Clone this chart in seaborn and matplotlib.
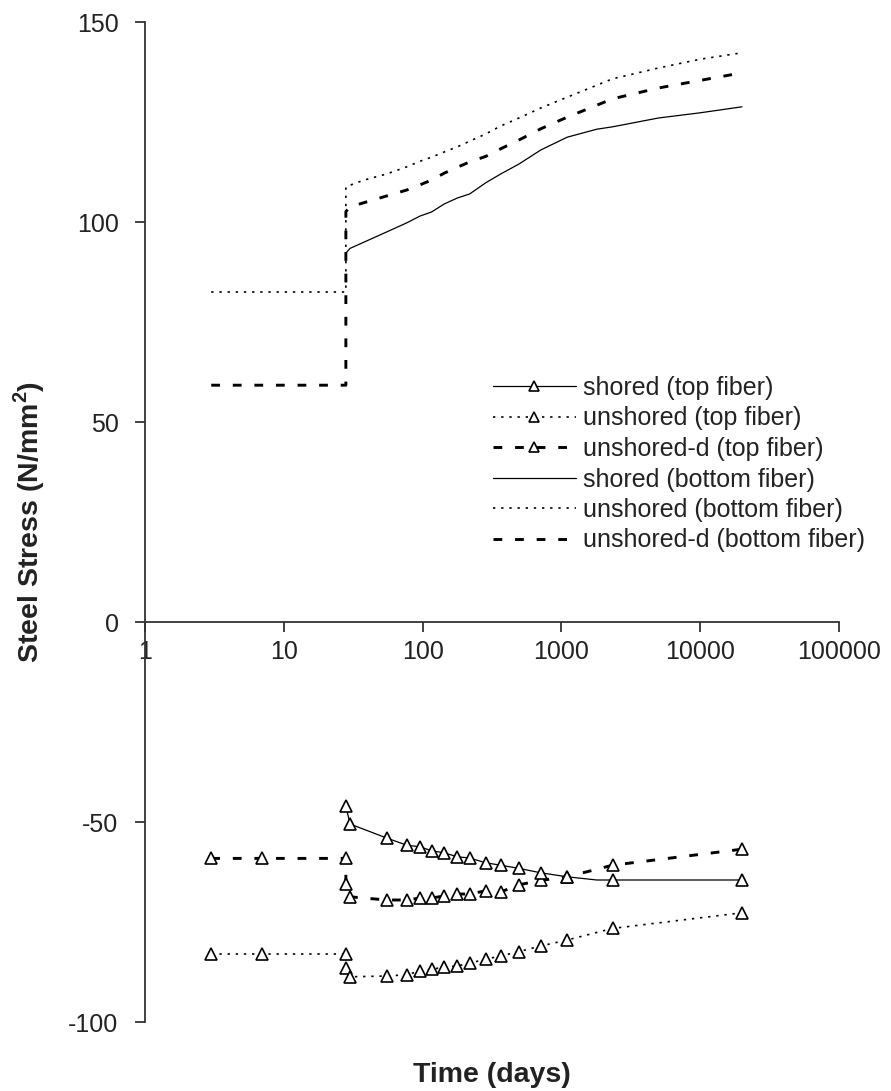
import matplotlib
matplotlib.use('Agg')
import matplotlib.pyplot as plt
import seaborn as sns
import pandas as pd
from matplotlib.lines import Line2D
from matplotlib.ticker import FixedLocator, FixedFormatter, NullLocator

# ---------------- data ----------------
# top fiber series (negative stresses, with triangle markers)
t_shored_top = [28, 30, 55, 77, 96, 116, 143, 178, 218, 285, 365, 495, 710, 1100, 1800, 2340, 20000]
v_shored_top = [-46, -50.5, -54, -55.8, -56.2, -57.2, -57.7, -58.7, -59, -60.2, -60.8, -61.6,
                -62.7, -63.7, -64.5, -64.5, -64.5]
shored_top_marked = [0, 1, 2, 3, 4, 5, 6, 7, 8, 9, 10, 11, 12, 13, 15, 16]

t_unshored_top = [3, 7, 28, 28, 30, 55, 77, 96, 116, 143, 178, 218, 285, 365, 495, 710, 1100, 2340, 20000]
v_unshored_top = [-83, -83, -83, -86.6, -88.7, -88.5, -88.2, -87.2, -86.8, -86.3, -86, -85.3,
                  -84.3, -83.5, -82.4, -81, -79.5, -76.6, -72.7]

t_unshored_d_top = [3, 7, 28, 28, 30, 55, 77, 96, 116, 143, 178, 218, 285, 365, 495, 710, 1100, 2340, 20000]
v_unshored_d_top = [-59.1, -59.1, -59.1, -65.5, -68.7, -69.5, -69.5, -69, -69, -68.5, -68, -68,
                    -67.2, -67.5, -65.7, -64.6, -63.7, -60.8, -56.8]

# bottom fiber series (positive stresses, lines only)
t_shored_bot = [28, 30, 55, 77, 96, 116, 143, 178, 218, 285, 365, 495, 710, 1100, 1800, 2340, 5000, 10000, 20000]
v_shored_bot = [92.2, 93.4, 97.5, 99.8, 101.5, 102.5, 104.5, 106, 107, 109.8, 112, 114.5, 118,
                121.2, 123.2, 123.8, 126, 127.3, 128.8]

t_unshored_bot = [3, 7, 28, 28, 30, 38, 55, 77, 96, 116, 143, 178, 218, 285, 365, 495, 710, 1100,
                  2340, 5000, 10000, 20000]
v_unshored_bot = [82.5, 82.5, 82.5, 108.8, 109.2, 110.5, 112, 113.8, 115.2, 116.2, 117.5, 118.8,
                  120.2, 122, 124, 126, 128.5, 131.2, 135.8, 138.5, 140.7, 142.3]

t_unshored_d_bot = [3, 7, 28, 28, 30, 55, 77, 96, 116, 143, 178, 218, 285, 365, 495, 710, 1100,
                    2340, 5000, 10000, 20000]
v_unshored_d_bot = [59.2, 59.2, 59.2, 102.6, 103.8, 106.5, 108, 109.3, 110.5, 112.2, 113.7, 115,
                    116.4, 118.3, 120.5, 123.3, 126.2, 130.8, 133.5, 135.4, 137.3]

x_ticks = [1, 10, 100, 1000, 10000, 100000]
x_tick_labels = ['1', '10', '100', '1000', '10000', '100000']
y_ticks = [-100, -50, 0, 50, 100, 150]
y_tick_labels = ['-100', '-50', '0', '50', '100', '150']

labels = ['shored (top fiber)', 'unshored (top fiber)', 'unshored-d (top fiber)',
          'shored (bottom fiber)', 'unshored (bottom fiber)', 'unshored-d (bottom fiber)']

# ---------------- styling ----------------
sns.set_theme(style='ticks')
plt.rcParams['font.family'] = ['Liberation Sans', 'DejaVu Sans']
plt.rcParams['axes.unicode_minus'] = False
plt.rcParams['mathtext.fontset'] = 'custom'
plt.rcParams['mathtext.rm'] = 'Liberation Sans'
plt.rcParams['mathtext.bf'] = 'Liberation Sans:bold'

TXT = '#222222'
SOLID = dict(color='black', lw=0.9, ls='-')
DOT = dict(color='black', lw=1.2, ls=(0, (1.4, 3.5)))
DASH = dict(color='black', lw=2.1, ls=(0, (3.0, 4.4)))
MK = dict(marker='^', markersize=9, markerfacecolor='white', markeredgecolor='black',
          markeredgewidth=1.2)

fig = plt.figure(figsize=(8.91, 10.91), dpi=100)
ax = fig.add_axes([145 / 891, 1 - 1022 / 1091, (839 - 145) / 891, 1000 / 1091])

def draw(t, v, style, **extra):
    df = pd.DataFrame({'t': t, 'v': v})
    sns.lineplot(data=df, x='t', y='v', ax=ax, estimator=None, sort=False,
                 legend=False, **style, **extra)

# bottom fiber (upper half)
draw(t_shored_bot, v_shored_bot, SOLID)
draw(t_unshored_bot, v_unshored_bot, DOT)
draw(t_unshored_d_bot, v_unshored_d_bot, DASH)
# top fiber (lower half) with markers
draw(t_unshored_top, v_unshored_top, DOT, **MK)
draw(t_unshored_d_top, v_unshored_d_top, DASH, **MK)
draw(t_shored_top, v_shored_top, SOLID, markevery=shored_top_marked, **MK)

ax.set_xscale('log')
ax.set_xlim(1, 100000)
ax.set_ylim(-100, 150)

ax.xaxis.set_major_locator(FixedLocator(x_ticks))
ax.xaxis.set_major_formatter(FixedFormatter(x_tick_labels))
ax.xaxis.set_minor_locator(NullLocator())
ax.yaxis.set_major_locator(FixedLocator(y_ticks))
ax.yaxis.set_major_formatter(FixedFormatter(y_tick_labels))

for s in ['top', 'right']:
    ax.spines[s].set_visible(False)
ax.spines['bottom'].set_position(('data', 0))
for s in ['left', 'bottom']:
    ax.spines[s].set_color('#333333')
    ax.spines[s].set_linewidth(1.3)

ax.tick_params(axis='x', direction='out', length=7, width=1.3, color='#333333',
               labelsize=18, labelcolor=TXT, pad=6)
ax.tick_params(axis='y', direction='out', length=7, width=1.3, color='#333333',
               labelsize=18, labelcolor=TXT, pad=12)

ax.set_xlabel('Time (days)', fontsize=20.5, fontweight='bold', color=TXT)
ax.xaxis.set_label_coords(0.5, -0.040)
ax.set_ylabel(r'Steel Stress (N/mm$^{\mathbf{2}}$)', fontsize=20.5, fontweight='bold', color=TXT)
ax.yaxis.set_label_coords(-0.141, 0.5)

handles = [
    Line2D([], [], **SOLID, **MK),
    Line2D([], [], **DOT, **MK),
    Line2D([], [], **DASH, **MK),
    Line2D([], [], **SOLID),
    Line2D([], [], **DOT),
    Line2D([], [], **DASH),
]
for h in handles[:3]:
    h.set_markersize(7.5)
leg = ax.legend(handles, labels, loc='upper left', bbox_to_anchor=(493 / 891, 1 - 376 / 1091),
                bbox_transform=fig.transFigure, frameon=False, fontsize=18,
                handlelength=3.3, handletextpad=0.3, labelspacing=0.26,
                borderpad=0, borderaxespad=0, numpoints=1)
for t in leg.get_texts():
    t.set_color(TXT)

fig.savefig('out.png', dpi=100)
